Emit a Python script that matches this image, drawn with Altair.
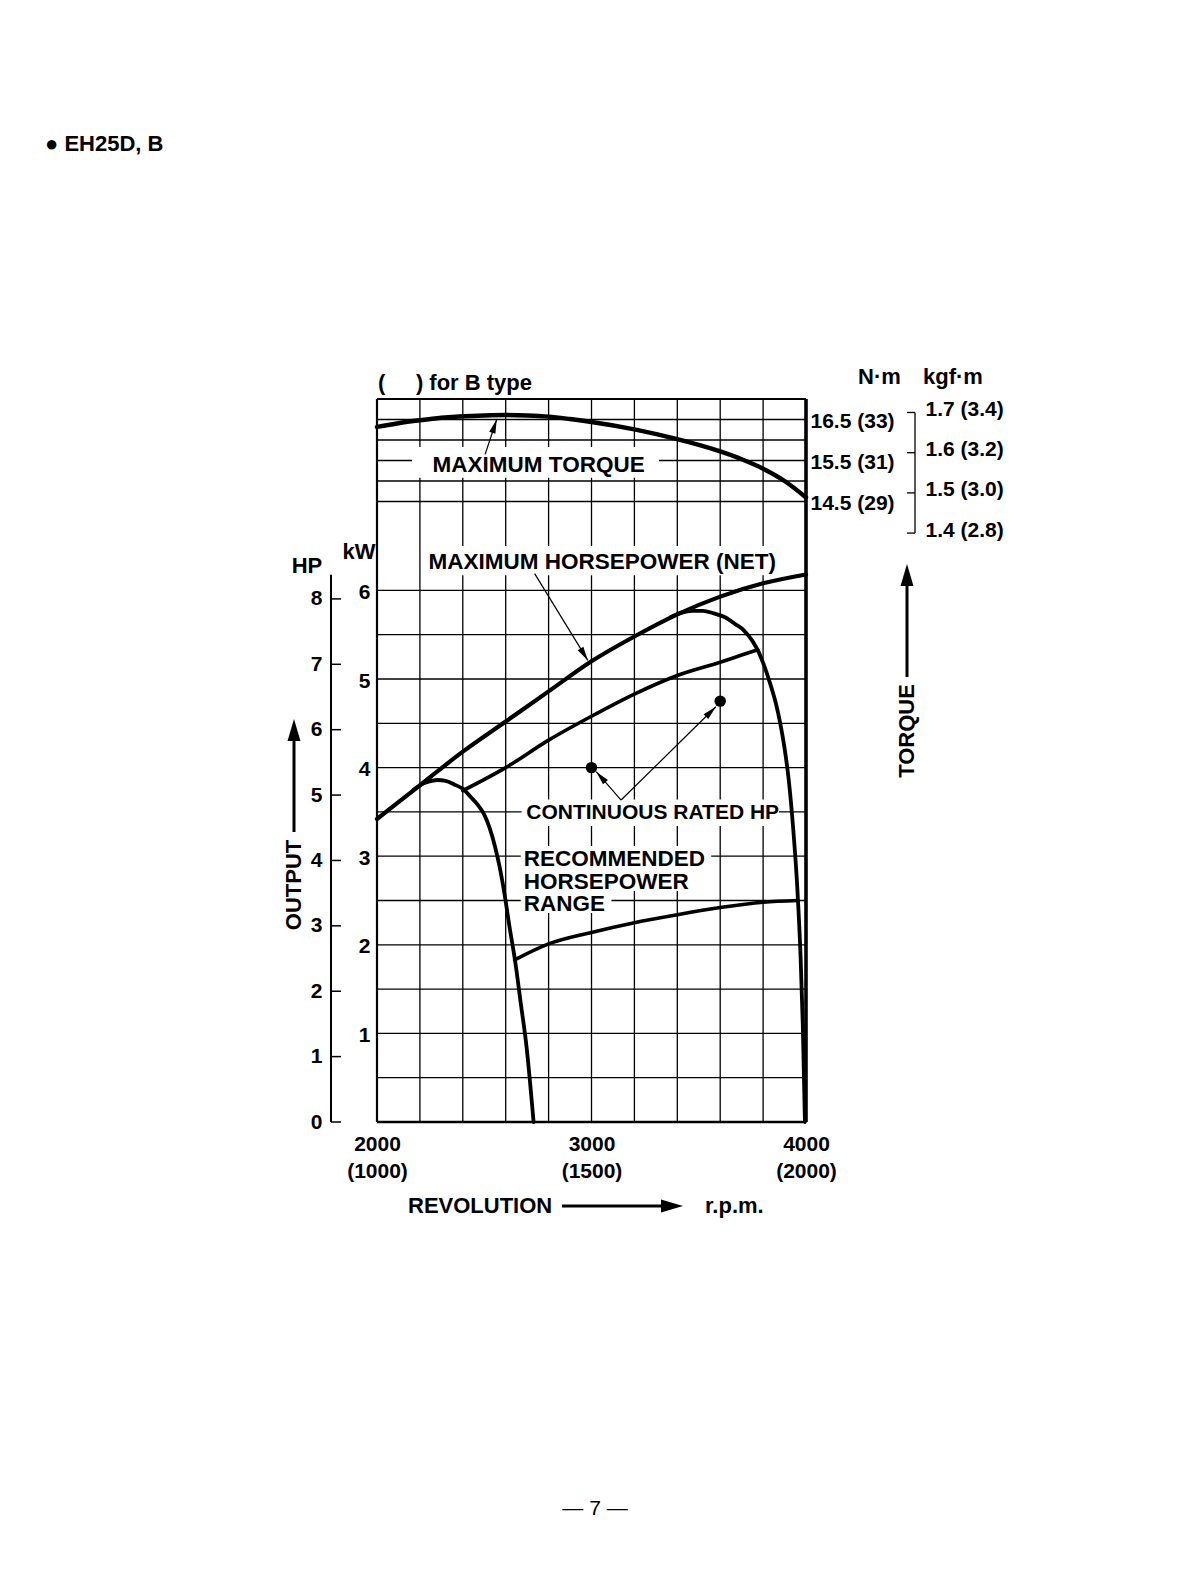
import altair as alt
import pandas as pd

# ---------------- data ----------------
RPM_GRID = [2000, 2200, 2400, 2600, 2800, 3000, 3200, 3400, 3600, 3800, 4000]
KW_GRID = [0.0, 0.5, 1.0, 1.5, 2.0, 2.5, 3.0, 3.5, 4.0, 4.5, 5.0, 5.5, 6.0]
NM_GRID = [14.5, 15.0, 15.5, 16.0, 16.5, 17.0]
X_TICKS = [2000, 3000, 4000]
KW_TICKS = [1, 2, 3, 4, 5, 6]
HP_TICKS = [0, 1, 2, 3, 4, 5, 6, 7, 8]
NM_TICKS = [14.5, 15.5, 16.5]
KGF_TICKS = [1.4, 1.5, 1.6, 1.7]

TORQUE_RPM = [2000, 2100, 2200, 2300, 2400, 2500, 2600, 2700, 2800, 2900, 3000,
              3200, 3400, 3600, 3700, 3800, 3900, 4000]
TORQUE_NM = [16.32, 16.41, 16.48, 16.54, 16.58, 16.60, 16.61, 16.60, 16.57, 16.51, 16.44,
             16.26, 16.02, 15.72, 15.53, 15.30, 15.00, 14.60]

MAXHP_RPM = [2000, 2200, 2400, 2600, 2800, 3000, 3200, 3400, 3600, 3800, 4000]
MAXHP_KW = [3.42, 3.80, 4.18, 4.52, 4.86, 5.20, 5.48, 5.73, 5.93, 6.08, 6.18]

LDOME_RPM = [2170, 2200, 2240, 2280, 2320, 2360, 2400, 2440, 2470, 2500, 2525, 2550,
             2570, 2590, 2620, 2645, 2668, 2698, 2730]
LDOME_KW = [3.75, 3.80, 3.84, 3.86, 3.85, 3.81, 3.76, 3.66, 3.58, 3.47, 3.32, 3.11,
            2.90, 2.64, 2.17, 1.80, 1.38, 0.83, 0.0]

RDOME_RPM = [3370, 3420, 3470, 3520, 3570, 3620, 3670, 3710, 3750, 3780, 3805, 3830,
             3860, 3880, 3900, 3920, 3940, 3960, 3975, 3985, 3995]
RDOME_KW = [5.70, 5.75, 5.77, 5.77, 5.74, 5.70, 5.62, 5.55, 5.43, 5.30, 5.15, 4.97,
            4.72, 4.50, 4.22, 3.85, 3.32, 2.62, 1.85, 1.10, 0.0]

UPPER_RPM = [2400, 2600, 2800, 3000, 3200, 3400, 3600, 3700, 3775]
UPPER_KW = [3.74, 4.00, 4.31, 4.58, 4.83, 5.04, 5.19, 5.27, 5.33]

LOWER_RPM = [2642, 2800, 3000, 3200, 3400, 3600, 3800, 3962]
LOWER_KW = [1.83, 2.01, 2.14, 2.25, 2.34, 2.42, 2.48, 2.50]

RATED_RPM = [3000, 3600]
RATED_KW = [4.0, 4.75]

# ---------------- layout / style ----------------
W, H = 429, 723
KW_TOP = H / 88.6
NM_TOP = 17.0
NM_BOT = NM_TOP - H / 41.0
KGF = 9.80665
HP_KW = 0.738          # HP scale spacing as drawn on the sheet
HP_LINE_TOP = 8.37
FONT = "Liberation Sans"
ARROW = "M0,0L0.4,1.7L-0.4,1.7Z"
BIG_ARROW = "M0,0L0.5,1.7L-0.5,1.7Z"

xs = alt.Scale(domain=[2000, 4000], nice=False, zero=False)
kws = alt.Scale(domain=[0, KW_TOP], nice=False, zero=False)
nms = alt.Scale(domain=[NM_BOT, NM_TOP], nice=False, zero=False)
kgfs = alt.Scale(domain=[NM_BOT / KGF, NM_TOP / KGF], nice=False, zero=False)
hps = alt.Scale(domain=[0, KW_TOP / HP_KW], nice=False, zero=False)

lab = dict(labelFont=FONT, labelFontWeight="bold", labelFontSize=21, labelColor="black",
           ticks=False, domain=False, grid=False, title=None, labelOverlap=False)

x_axis = alt.Axis(values=X_TICKS,
                  labelExpr="[format(datum.value,'d'), '(' + format(datum.value/2,'d') + ')']",
                  labelBaseline="top", labelPadding=11, labelLineHeight=27,
                  labelFlush=False, **lab)
kw_axis = alt.Axis(orient="left", values=KW_TICKS, format="d", labelPadding=7,
                   labelBaseline="middle", labelOffset=2, **lab)
nm_axis = alt.Axis(orient="right", values=NM_TICKS,
                   labelExpr="datum.value + ' (' + datum.value*2 + ')'",
                   labelAlign="left", labelPadding=4, labelBaseline="middle", labelOffset=2, **lab)
kgf_axis = alt.Axis(orient="right", offset=109, values=KGF_TICKS,
                    labelExpr="format(datum.value,'.1f') + ' (' + format(datum.value*2,'.1f') + ')'",
                    labelAlign="left", labelPadding=10, labelBaseline="middle", labelOffset=-3, **lab)
hp_axis = alt.Axis(orient="left", offset=46, values=HP_TICKS, format="d", labelPadding=9,
                   labelBaseline="middle", **lab)


def X(f):
    return alt.X(f, scale=xs, axis=x_axis)


def Ykw(f):
    return alt.Y(f, scale=kws, axis=kw_axis)


def Ynm(f):
    return alt.Y(f, scale=nms, axis=nm_axis)


def Ykgf(f):
    return alt.Y(f, scale=kgfs, axis=kgf_axis)


def Yhp(f):
    return alt.Y(f, scale=hps, axis=hp_axis)


def curve(rpm, val, yenc, width):
    df = pd.DataFrame({"rpm": rpm, "v": val})
    return alt.Chart(df).mark_line(color="black", strokeWidth=width, interpolate="monotone",
                                   strokeCap="round").encode(x=X("rpm:Q"), y=yenc("v:Q"))


def ptext(txt, x, y, size=22, align="left", angle=0, weight="bold"):
    return alt.Chart(pd.DataFrame({"t": [txt]})).mark_text(
        align=align, baseline="middle", font=FONT, fontSize=size, fontWeight=weight,
        angle=angle, color="black").encode(text="t:N", x=alt.value(x), y=alt.value(y))


def parrow(x, y, angle):
    return alt.Chart(pd.DataFrame({"a": [0]})).mark_point(
        shape=BIG_ARROW, filled=True, size=670, color="black", opacity=1, angle=angle,
        strokeWidth=0).encode(x=alt.value(x), y=alt.value(y))


def pshaft(x1, y1, x2, y2):
    return alt.Chart(pd.DataFrame({"a": [0]})).mark_rule(color="black", strokeWidth=3).encode(
        x=alt.value(x1), y=alt.value(y1), x2=alt.value(x2), y2=alt.value(y2))


# ---------------- power (kW) group ----------------
vgrid = alt.Chart(pd.DataFrame({"rpm": RPM_GRID})).mark_rule(color="black", strokeWidth=1.3).encode(
    x=X("rpm:Q"))
hgrid = alt.Chart(pd.DataFrame({"kw": KW_GRID})).mark_rule(color="black", strokeWidth=1.3).encode(
    y=Ykw("kw:Q"))
vborder = alt.Chart(pd.DataFrame({"rpm": [2000, 4000], "w": [2.2, 3.6]})).mark_rule(color="black").encode(
    x=X("rpm:Q"), strokeWidth=alt.StrokeWidth("w:Q", scale=None))
bborder = alt.Chart(pd.DataFrame({"kw": [0.0]})).mark_rule(color="black", strokeWidth=2.6).encode(
    y=Ykw("kw:Q"))

boxes = pd.DataFrame({
    "x1": [2223, 2674, 2670],
    "x2": [3898, 3874, 3558],
    "y1": [6.17, 3.34, 2.607],
    "y2": [6.50, 3.64, 3.115],
})
boxes2 = pd.DataFrame({"x1": [2670], "x2": [3093], "y1": [2.359], "y2": [2.607]})
box_layer = alt.Chart(boxes).mark_rect(color="white").encode(
    x=X("x1:Q"), x2="x2:Q", y=Ykw("y1:Q"), y2="y2:Q")
box_layer2 = alt.Chart(boxes2).mark_rect(color="white").encode(
    x=X("x1:Q"), x2="x2:Q", y=Ykw("y1:Q"), y2="y2:Q")

leaders = pd.DataFrame({
    "x1": [2735, 3138, 3138], "y1": [6.19, 3.634, 3.634],
    "x2": [2983, 3022, 3580], "y2": [5.21, 3.954, 4.687],
})
leader_layer = alt.Chart(leaders).mark_rule(color="black", strokeWidth=1.2).encode(
    x=X("x1:Q"), y=Ykw("y1:Q"), x2="x2:Q", y2="y2:Q")
heads = pd.DataFrame({"rpm": [2983, 3022, 3580], "kw": [5.21, 3.954, 4.687],
                      "ang": [148.4, 318.5, 45.5]})
head_layer = alt.Chart(heads).mark_point(shape=ARROW, filled=True, size=271, color="black",
                                         opacity=1, strokeWidth=0).encode(
    x=X("rpm:Q"), y=Ykw("kw:Q"), angle=alt.Angle("ang:Q", scale=None))

dots = alt.Chart(pd.DataFrame({"rpm": RATED_RPM, "kw": RATED_KW})).mark_circle(
    color="black", size=130, opacity=1).encode(x=X("rpm:Q"), y=Ykw("kw:Q"))

ann = pd.DataFrame({
    "t": ["MAXIMUM HORSEPOWER (NET)", "CONTINUOUS RATED HP"],
    "rpm": [2240, 2696],
    "kw": [6.32, 3.49],
    "fs": [22.5, 21],
})
ann_layer = alt.Chart(ann).mark_text(align="left", baseline="middle", font=FONT,
                                     fontWeight="bold", color="black").encode(
    x=X("rpm:Q"), y=Ykw("kw:Q"), text="t:N", size=alt.Size("fs:Q", scale=None))
rec_layer = alt.Chart(pd.DataFrame({"t": ["RECOMMENDED\nHORSEPOWER\nRANGE"], "rpm": [2684],
                                    "kw": [3.087]})).mark_text(
    align="left", baseline="top", font=FONT, fontWeight="bold", fontSize=22.5, color="black",
    lineBreak="\n", lineHeight=22.5).encode(x=X("rpm:Q"), y=Ykw("kw:Q"), text="t:N")

power = alt.layer(
    vgrid, hgrid, vborder, bborder, box_layer, box_layer2,
    curve(MAXHP_RPM, MAXHP_KW, Ykw, 4.2),
    curve(LDOME_RPM, LDOME_KW, Ykw, 3.8),
    curve(RDOME_RPM, RDOME_KW, Ykw, 3.8),
    curve(UPPER_RPM, UPPER_KW, Ykw, 3.6),
    curve(LOWER_RPM, LOWER_KW, Ykw, 3.6),
    leader_layer, head_layer, dots, ann_layer, rec_layer,
    ptext("\u25cf EH25D, B", -332, -255),
    ptext("(\u00a0\u00a0\u00a0\u00a0\u00a0) for B type", 1, -16),
    ptext("N\u00b7m", 481, -22),
    ptext("kgf\u00b7m", 546, -22),
    ptext("HP", -70, 167, align="center"),
    ptext("kW", -18, 153, align="center"),
    ptext("OUTPUT", -83, 486, align="center", angle=270),
    pshaft(-83, 433, -83, 338), parrow(-83, 320, 0),
    ptext("TORQUE", 530, 332, align="center", angle=270),
    pshaft(530, 278, 530, 183), parrow(530, 165, 0),
    ptext("REVOLUTION", 31, 807),
    pshaft(185, 807, 290, 807), parrow(306, 807, 90),
    ptext("r.p.m.", 328, 807),
    ptext("\u2014 7 \u2014", 218, 1110, size=21, align="center", weight="normal"),
)

# ---------------- torque (N·m) group ----------------
nmgrid = alt.Chart(pd.DataFrame({"nm": NM_GRID})).mark_rule(color="black", strokeWidth=1.3).encode(
    y=Ynm("nm:Q"))
tborder = alt.Chart(pd.DataFrame({"nm": [17.0]})).mark_rule(color="black", strokeWidth=1.8).encode(
    y=Ynm("nm:Q"))
tbox = alt.Chart(pd.DataFrame({"x1": [2163], "x2": [3315], "y1": [15.08], "y2": [15.83]})).mark_rect(
    color="white").encode(x=X("x1:Q"), x2="x2:Q", y=Ynm("y1:Q"), y2="y2:Q")
tlead = alt.Chart(pd.DataFrame({"x1": [2504], "y1": [15.65], "x2": [2558], "y2": [16.5]})).mark_rule(
    color="black", strokeWidth=1.2).encode(x=X("x1:Q"), y=Ynm("y1:Q"), x2="x2:Q", y2="y2:Q")
thead = alt.Chart(pd.DataFrame({"rpm": [2558], "nm": [16.5], "ang": [18.4]})).mark_point(
    shape=ARROW, filled=True, size=271, color="black", opacity=1, strokeWidth=0).encode(
    x=X("rpm:Q"), y=Ynm("nm:Q"), angle=alt.Angle("ang:Q", scale=None))
ttext = alt.Chart(pd.DataFrame({"t": ["MAXIMUM TORQUE"], "rpm": [2259], "nm": [15.4]})).mark_text(
    align="left", baseline="middle", font=FONT, fontWeight="bold", fontSize=22.5, color="black").encode(
    x=X("rpm:Q"), y=Ynm("nm:Q"), text="t:N")

torque = alt.layer(nmgrid, tborder, tbox, curve(TORQUE_RPM, TORQUE_NM, Ynm, 4.5), tlead, thead, ttext)

# ---------------- kgf·m bracket group ----------------
kgf_ticks = alt.Chart(pd.DataFrame({"kgf": KGF_TICKS})).mark_rule(color="black", strokeWidth=1.3).encode(
    y=Ykgf("kgf:Q"), x=alt.value(530), x2=alt.value(538))
kgf_line = alt.Chart(pd.DataFrame({"a": [KGF_TICKS[0]], "b": [KGF_TICKS[-1]]})).mark_rule(
    color="black", strokeWidth=1.3).encode(y=Ykgf("a:Q"), y2="b:Q", x=alt.value(538))
kgf_group = alt.layer(kgf_ticks, kgf_line)

# ---------------- HP axis group ----------------
hp_ticks = alt.Chart(pd.DataFrame({"hp": HP_TICKS})).mark_rule(color="black", strokeWidth=1.5).encode(
    y=Yhp("hp:Q"), x=alt.value(-46), x2=alt.value(-36))
hp_line = alt.Chart(pd.DataFrame({"a": [0.0], "b": [HP_LINE_TOP]})).mark_rule(
    color="black", strokeWidth=2).encode(y=Yhp("a:Q"), y2="b:Q", x=alt.value(-46))
hp_group = alt.layer(hp_ticks, hp_line)

chart = alt.layer(power, torque, kgf_group, hp_group).resolve_scale(y="independent").properties(
    width=W, height=H,
    autosize=alt.AutoSizeParams(type="none"),
    padding={"left": 369, "top": 391, "right": 340, "bottom": 440},
    background="white",
).configure_view(stroke=None)

chart.save("out.html", embed_options={"renderer": "svg", "actions": False})
